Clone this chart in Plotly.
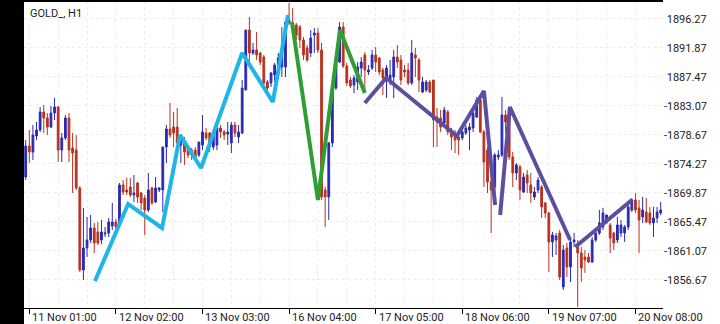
import plotly.graph_objects as go

# ---------------- data ----------------
bar_index = list(range(-1, 176))

open_ = [1872.30, 1877.00, 1876.09, 1878.52, 1879.43, 1882.16, 1881.25, 1879.88, 1882.01, 1882.92,
         1876.39, 1878.22, 1881.25, 1876.70, 1876.39, 1870.63, 1858.19, 1861.53, 1862.74, 1864.56,
         1863.96, 1862.74, 1863.65, 1863.80, 1864.87, 1865.47, 1865.02, 1871.09, 1870.33, 1870.78,
         1869.57, 1871.39, 1869.87, 1869.11, 1867.29, 1870.63, 1868.51, 1870.33, 1870.33, 1876.85,
         1879.58, 1879.88, 1879.88, 1877.15, 1877.46, 1876.85, 1876.39, 1876.39, 1875.64, 1877.15,
         1878.97, 1878.97, 1876.85, 1877.15, 1879.73, 1879.13, 1878.82, 1877.46, 1880.19, 1878.37,
         1878.97, 1885.50, 1894.60, 1891.11, 1891.57, 1891.11, 1890.50, 1886.71, 1886.56, 1887.77,
         1889.29, 1888.99, 1888.99, 1896.12, 1895.66, 1895.36, 1895.05, 1893.08, 1891.87, 1891.11,
         1893.84, 1894.14, 1891.57, 1870.33, 1869.27, 1877.46, 1885.80, 1889.74, 1895.05, 1889.14,
         1887.01, 1886.26, 1886.71, 1888.83, 1890.81, 1888.23, 1888.83, 1890.81, 1890.35, 1888.53,
         1887.32, 1887.01, 1887.47, 1890.50, 1890.05, 1888.53, 1888.53, 1886.56, 1890.81, 1890.05,
         1885.19, 1885.50, 1886.71, 1887.01, 1881.40, 1881.25, 1880.49, 1882.16, 1879.43, 1878.97,
         1878.37, 1878.22, 1878.97, 1879.43, 1879.73, 1881.40, 1883.98, 1879.13, 1876.39, 1871.54,
         1870.78, 1875.33, 1875.64, 1881.70, 1881.25, 1875.33, 1872.91, 1873.82, 1870.02, 1872.60,
         1871.09, 1869.27, 1870.33, 1870.78, 1868.36, 1866.84, 1862.44, 1862.74, 1863.80, 1855.61,
         1861.53, 1858.65, 1862.44, 1861.68, 1860.77, 1860.16, 1860.16, 1859.40, 1862.74, 1863.80,
         1864.71, 1865.32, 1865.02, 1863.80, 1862.74, 1863.80, 1863.80, 1864.71, 1867.29, 1868.81,
         1867.60, 1866.23, 1866.99, 1866.84, 1865.32, 1866.08, 1866.84]

high = [1877.91, 1879.43, 1880.19, 1880.64, 1882.92, 1883.22, 1882.01, 1883.07, 1884.28, 1883.07,
        1878.97, 1881.70, 1882.01, 1878.97, 1878.67, 1870.93, 1867.60, 1866.23, 1866.53, 1865.32,
        1865.47, 1865.78, 1864.71, 1866.08, 1868.36, 1865.93, 1871.39, 1871.84, 1872.15, 1872.15,
        1872.60, 1871.54, 1870.02, 1869.57, 1872.91, 1870.78, 1872.30, 1870.78, 1876.85, 1880.19,
        1883.53, 1882.16, 1882.77, 1878.67, 1878.37, 1877.00, 1876.70, 1876.85, 1877.61, 1881.70,
        1879.73, 1879.13, 1879.43, 1879.88, 1880.19, 1879.43, 1880.64, 1880.64, 1880.64, 1880.19,
        1887.01, 1894.60, 1896.57, 1892.63, 1894.30, 1891.26, 1890.81, 1887.01, 1888.23, 1889.59,
        1891.11, 1895.05, 1896.12, 1898.70, 1897.94, 1895.66, 1895.36, 1893.54, 1892.32, 1894.60,
        1894.90, 1894.90, 1892.63, 1870.78, 1877.61, 1886.26, 1889.59, 1895.81, 1895.81, 1889.59,
        1887.47, 1887.77, 1889.74, 1890.50, 1891.26, 1889.29, 1891.57, 1892.02, 1890.50, 1888.83,
        1889.29, 1890.05, 1891.57, 1892.32, 1890.81, 1889.29, 1889.59, 1893.08, 1891.87, 1890.35,
        1887.47, 1887.01, 1887.01, 1887.01, 1882.77, 1882.46, 1882.92, 1882.46, 1879.73, 1879.43,
        1878.97, 1879.73, 1880.19, 1880.49, 1882.92, 1884.44, 1884.74, 1879.43, 1876.85, 1871.84,
        1875.94, 1876.39, 1884.44, 1882.46, 1881.70, 1876.09, 1874.42, 1874.12, 1872.91, 1873.36,
        1872.91, 1870.78, 1872.30, 1871.09, 1868.51, 1866.99, 1863.96, 1863.80, 1864.26, 1861.98,
        1862.29, 1863.20, 1863.80, 1862.74, 1861.68, 1861.22, 1860.77, 1863.20, 1864.26, 1867.29,
        1867.60, 1866.53, 1865.32, 1863.96, 1866.23, 1865.78, 1865.02, 1868.05, 1869.11, 1869.87,
        1868.81, 1869.27, 1869.11, 1867.75, 1867.75, 1867.75, 1868.51]

low = [1871.84, 1874.42, 1874.88, 1877.91, 1879.13, 1878.97, 1878.67, 1879.73, 1880.95, 1874.57,
       1874.57, 1877.91, 1874.57, 1869.87, 1870.33, 1857.89, 1856.67, 1860.16, 1862.29, 1860.77,
       1861.98, 1862.14, 1863.20, 1863.20, 1864.26, 1863.80, 1864.56, 1869.57, 1869.57, 1869.27,
       1868.51, 1868.36, 1867.29, 1863.50, 1866.99, 1868.05, 1868.36, 1870.02, 1866.99, 1874.42,
       1878.22, 1876.85, 1877.15, 1874.42, 1874.12, 1875.18, 1874.88, 1874.88, 1875.33, 1876.39,
       1877.91, 1876.09, 1876.39, 1876.39, 1878.22, 1877.91, 1877.15, 1875.94, 1878.37, 1877.46,
       1878.82, 1885.50, 1889.59, 1890.81, 1890.05, 1889.29, 1885.95, 1885.04, 1885.95, 1886.71,
       1888.83, 1887.47, 1887.47, 1895.36, 1894.90, 1893.08, 1891.87, 1890.05, 1889.74, 1890.50,
       1891.11, 1891.11, 1868.81, 1864.71, 1865.78, 1876.85, 1885.50, 1889.59, 1888.83, 1886.10,
       1885.80, 1885.04, 1885.50, 1887.47, 1885.50, 1887.77, 1888.53, 1888.23, 1887.77, 1884.74,
       1884.28, 1886.26, 1884.28, 1888.83, 1886.26, 1887.47, 1886.26, 1886.26, 1887.47, 1885.19,
       1885.04, 1885.19, 1885.04, 1876.85, 1876.85, 1879.13, 1879.88, 1878.67, 1876.39, 1875.94,
       1875.64, 1877.91, 1878.67, 1876.39, 1879.13, 1881.25, 1878.97, 1870.78, 1869.87, 1863.80,
       1870.33, 1874.88, 1875.33, 1878.97, 1874.88, 1870.78, 1871.84, 1868.81, 1869.87, 1869.87,
       1868.36, 1868.81, 1869.87, 1866.08, 1866.08, 1857.89, 1860.16, 1860.47, 1856.67, 1855.16,
       1857.13, 1856.37, 1861.68, 1852.58, 1856.37, 1857.74, 1859.25, 1859.25, 1862.44, 1863.50,
       1864.26, 1865.32, 1860.77, 1861.22, 1862.29, 1863.20, 1862.44, 1864.26, 1866.99, 1866.84,
       1860.77, 1865.32, 1865.32, 1865.02, 1863.20, 1865.32, 1866.53]

close = [1877.00, 1876.09, 1878.67, 1879.43, 1882.16, 1881.25, 1879.88, 1882.01, 1882.92, 1876.39,
         1878.22, 1881.25, 1876.39, 1875.94, 1870.63, 1858.19, 1861.53, 1862.74, 1864.56, 1862.29,
         1862.29, 1863.96, 1863.80, 1865.47, 1865.47, 1864.71, 1871.09, 1870.02, 1870.02, 1869.57,
         1869.87, 1869.27, 1868.36, 1867.29, 1870.33, 1868.36, 1870.63, 1870.63, 1876.85, 1879.58,
         1878.67, 1878.97, 1877.46, 1877.91, 1876.09, 1875.64, 1875.64, 1875.33, 1877.61, 1879.13,
         1878.22, 1876.85, 1878.97, 1879.73, 1879.13, 1878.67, 1879.13, 1880.19, 1878.97, 1879.13,
         1885.80, 1894.60, 1891.11, 1891.57, 1890.81, 1889.74, 1886.56, 1885.80, 1888.08, 1889.29,
         1890.35, 1891.57, 1895.81, 1895.66, 1895.05, 1893.84, 1893.08, 1890.81, 1890.05, 1893.39,
         1894.14, 1891.57, 1869.27, 1869.27, 1877.46, 1885.95, 1889.29, 1895.05, 1889.14, 1886.56,
         1886.10, 1887.32, 1888.99, 1889.74, 1888.53, 1888.53, 1890.81, 1889.74, 1888.23, 1887.32,
         1888.83, 1887.77, 1890.50, 1889.74, 1887.01, 1888.23, 1886.56, 1891.11, 1890.35, 1887.01,
         1886.71, 1886.71, 1885.19, 1880.95, 1880.64, 1879.88, 1882.46, 1879.13, 1878.37, 1877.91,
         1877.91, 1879.13, 1879.73, 1879.88, 1882.01, 1883.98, 1879.13, 1874.57, 1871.54, 1870.33,
         1875.64, 1875.64, 1881.70, 1880.64, 1875.33, 1872.91, 1874.12, 1870.33, 1872.30, 1871.39,
         1869.87, 1870.02, 1871.84, 1867.75, 1866.84, 1862.44, 1863.50, 1863.35, 1857.13, 1861.22,
         1858.65, 1862.44, 1862.74, 1860.77, 1858.50, 1859.71, 1859.40, 1862.74, 1863.80, 1865.32,
         1866.84, 1866.53, 1863.05, 1862.29, 1865.02, 1865.02, 1864.71, 1867.75, 1868.81, 1867.29,
         1865.78, 1867.29, 1865.47, 1865.32, 1866.08, 1866.99, 1867.29]

tick_bars = [0, 24, 48, 72, 96, 120, 144, 168]
tick_labels = ["11 Nov 01:00", "12 Nov 02:00", "13 Nov 03:00", "16 Nov 04:00",
               "17 Nov 05:00", "18 Nov 06:00", "19 Nov 07:00", "20 Nov 08:00"]

price_ticks = [1896.27, 1891.87, 1887.47, 1883.07, 1878.67,
               1874.27, 1869.87, 1865.47, 1861.07, 1856.67]
price_labels = ["\u00a01896.27", "\u00a01891.87", "\u00a01887.47", "-1883.07", "-1878.67",
                "-1874.27", "-1869.87", "-1865.47", "-1861.07", "-1856.67"]

# zigzag lines
cyan_x = [18.2, 27.4, 36.8, 41.8, 47.6, 59.0, 67.5, 71.7]
cyan_y = [1856.52, 1868.20, 1864.56, 1878.67, 1873.66, 1891.11, 1883.68, 1896.87]
green_x = [72.8, 80.0, 86.1, 93.0]
green_y = [1895.81, 1868.81, 1894.60, 1885.04]
purple_x = [93.0, 98.9, 118.5, 126.0, 129.1, None, 130.5, 133.2, 149.9, None, 151.3, 167.0]
purple_y = [1883.52, 1887.32, 1878.52, 1885.35, 1868.05, None, 1866.53, 1882.92, 1862.74, None, 1861.68, 1868.81]

title_text = "GOLD_, H1"

# ---------------- styles ----------------
BLUE = "#2a2ab4"
RED = "#b8321f"
CYAN = "#1fb6e6"
GREEN = "#2f9f35"
PURPLE = "#5d4f9e"
GRID = "#ececec"
TXT = "#222222"
FONT = "Roboto"

W, H = 720, 324
ML, MR, MT, MB = 24, 57, 1, 16
PW = W - ML - MR
PH = H - MT - MB

fig = go.Figure()
fig.add_trace(go.Candlestick(
    x=bar_index, open=open_, high=high, low=low, close=close,
    increasing=dict(line=dict(color=BLUE, width=1), fillcolor=BLUE),
    decreasing=dict(line=dict(color=RED, width=1), fillcolor=RED),
    whiskerwidth=0, showlegend=False, hoverinfo="skip"))

for xs, ys, col in [(cyan_x, cyan_y, CYAN), (green_x, green_y, GREEN), (purple_x, purple_y, PURPLE)]:
    fig.add_trace(go.Scatter(x=xs, y=ys, mode="lines", connectgaps=False,
                             line=dict(color=col, width=4), showlegend=False, hoverinfo="skip"))

annotations = [dict(x=b, y=0, xref="x", yref="paper", text=t, showarrow=False,
                    xanchor="left", yanchor="top", yshift=-1, xshift=1,
                    font=dict(family=FONT, size=11, color=TXT))
               for b, t in zip(tick_bars, tick_labels)]
annotations.append(dict(x=4 / PW, y=1, xref="paper", yref="paper", text=title_text,
                        showarrow=False, xanchor="left", yanchor="top", yshift=-4,
                        font=dict(family=FONT, size=11, color=TXT)))

shapes = [
    dict(type="rect", xref="paper", yref="paper", x0=-ML / PW, x1=0, y0=-MB / PH, y1=1 + MT / PH,
         fillcolor="#000000", line=dict(width=0), layer="above"),
    dict(type="line", xref="paper", yref="paper", x0=-ML / PW, x1=1, y0=1, y1=1,
         line=dict(color="#000000", width=2), layer="above"),
]

fig.update_layout(
    width=W, height=H,
    margin=dict(l=ML, r=MR, t=MT, b=MB),
    paper_bgcolor="#ffffff", plot_bgcolor="#ffffff",
    showlegend=False,
    annotations=annotations, shapes=shapes,
    xaxis=dict(range=[-1.47, 175.64], rangeslider=dict(visible=False),
               tickvals=tick_bars, showticklabels=False,
               ticks="outside", ticklen=5, tickcolor="#000000", tickwidth=1,
               showgrid=True, gridcolor=GRID, griddash="dot", gridwidth=1,
               minor=dict(tick0=0, dtick=8, showgrid=True, gridcolor=GRID, griddash="dot", ticks=""),
               showline=True, linecolor="#000000", linewidth=1, zeroline=False, fixedrange=True),
    yaxis=dict(range=[1852.42, 1899.0], side="right",
               tickvals=price_ticks, ticktext=price_labels, ticks="",
               tickfont=dict(family=FONT, size=11, color=TXT),
               showgrid=True, gridcolor=GRID, griddash="dot", gridwidth=1,
               showline=False, zeroline=False, fixedrange=True),
)

fig.write_html("out.html")
